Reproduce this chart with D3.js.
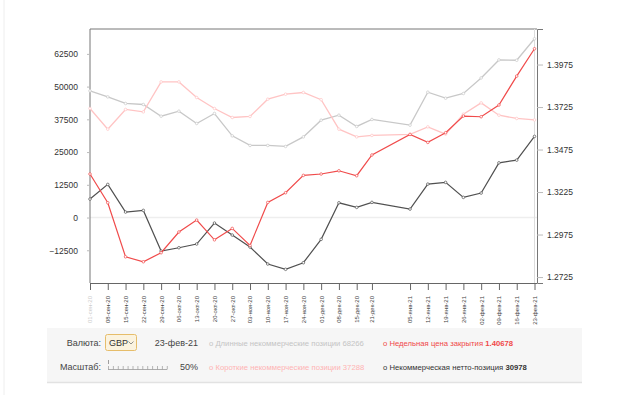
<!DOCTYPE html>
<html>
<head>
<meta charset="utf-8">
<script src="https://cdn.jsdelivr.net/npm/d3@7"></script>
<style>
  body { margin: 0; background: #fff; }
  text { font-family: "Liberation Sans", Arial, sans-serif; }
</style>
</head>
<body>
<div id="chart"></div>
<script>
// weekly report dates
var dates = ["2020-09-01", "2020-09-08", "2020-09-15", "2020-09-22", "2020-09-29",
  "2020-10-06", "2020-10-13", "2020-10-20", "2020-10-27", "2020-11-03",
  "2020-11-10", "2020-11-17", "2020-11-24", "2020-12-01", "2020-12-08",
  "2020-12-15", "2020-12-21", "2021-01-05", "2021-01-12", "2021-01-19",
  "2021-01-26", "2021-02-02", "2021-02-09", "2021-02-16", "2021-02-23"];
var dateLabels = ["01-сен-20", "08-сен-20", "15-сен-20", "22-сен-20", "29-сен-20",
  "06-окт-20", "13-окт-20", "20-окт-20", "27-окт-20", "03-ноя-20",
  "10-ноя-20", "17-ноя-20", "24-ноя-20", "01-дек-20", "08-дек-20",
  "15-дек-20", "21-дек-20", "05-янв-21", "12-янв-21", "19-янв-21",
  "26-янв-21", "02-фев-21", "09-фев-21", "16-фев-21", "23-фев-21"];

var longPos = [48360, 46070, 43560, 43170, 38710, 40620, 35930, 39740, 31190, 27530,
  27530, 27150, 30810, 37180, 39090, 34780, 37450, 35280, 47870, 45580,
  47370, 53320, 60190, 60070, 68266];
var shortPos = [41650, 33750, 41270, 40350, 51800, 51800, 45840, 41650, 38210, 38600,
  45200, 47100, 47750, 45000, 33750, 30810, 31350, 31730, 34630, 31840,
  39470, 43780, 39090, 37830, 37288];
var netPos = [7050, 12650, 2090, 2730, -12790, -11530, -10120, -2110, -6690, -11270,
  -17750, -19770, -17260, -8330, 5630, 3880, 5790, 3230, 12770, 13420,
  7700, 9340, 20890, 21920, 30978];
var closePrice = [1.3331, 1.3162, 1.2844, 1.2815, 1.2868, 1.2990, 1.3060, 1.2944, 1.3011, 1.2911,
  1.3164, 1.3221, 1.3323, 1.3331, 1.3350, 1.3321, 1.3443, 1.3564, 1.3517, 1.3574,
  1.3672, 1.3668, 1.3737, 1.3907, 1.40678];

var leftTicks = [-12500, 0, 12500, 25000, 37500, 50000, 62500];
var rightTicks = [1.2725, 1.2975, 1.3225, 1.3475, 1.3725, 1.3975];

var parse = d3.timeParse("%Y-%m-%d");
var dd = dates.map(parse);

var svg = d3.select("#chart").append("svg")
  .attr("width", 620).attr("height", 395);

var plotL = 90, plotR = 537, plotT = 29, plotB = 283;

var x = d3.scaleTime().domain([dd[0], dd[dd.length - 1]]).range([plotL, 534.5]);
var y = d3.scaleLinear().domain([-25000, 72000]).range([plotB, plotT]);
var y2 = d3.scaleLinear().domain([1.269, 1.4184]).range([plotB, plotT]);

// faint outer edge
svg.append("line").attr("x1", 4).attr("x2", 4).attr("y1", 0).attr("y2", 395)
  .attr("stroke", "#eeeeee");

// zero line
svg.append("line").attr("x1", plotL).attr("x2", plotR)
  .attr("y1", y(0)).attr("y2", y(0))
  .attr("stroke", "#eeeeee").attr("stroke-width", 1.5);

// frame
svg.append("path")
  .attr("d", "M" + plotL + "," + plotB + "V" + plotT + "H" + plotR)
  .attr("fill", "none").attr("stroke", "#777").attr("stroke-width", 1);
svg.append("line").attr("x1", 534.5).attr("x2", 534.5).attr("y1", plotT).attr("y2", plotB)
  .attr("stroke", "#dddddd");

// left axis
var gl = svg.append("g").attr("transform", "translate(" + plotL + ",0)")
  .call(d3.axisLeft(y).tickValues(leftTicks).tickSize(3).tickPadding(9).tickFormat(d3.format("d")));
gl.select(".domain").remove();
gl.selectAll("line").attr("stroke", "#bbb");
gl.selectAll("text").attr("font-size", 8.5).attr("fill", "#333")
  .style("font-family", "Liberation Sans, Arial, sans-serif");

// right axis
var gr = svg.append("g").attr("transform", "translate(" + plotR + ",0)")
  .call(d3.axisRight(y2).tickValues(rightTicks).tickSize(6).tickPadding(4).tickFormat(d3.format(".4f")));
gr.select(".domain").attr("stroke", "#777");
gr.selectAll("line").attr("stroke", "#bbb");
gr.selectAll("text").attr("font-size", 8.5).attr("fill", "#333")
  .style("font-family", "Liberation Sans, Arial, sans-serif");

// bottom axis
var gb = svg.append("g").attr("transform", "translate(0," + plotB + ")")
  .call(d3.axisBottom(x).tickValues(dd).tickSize(7).tickFormat(function (d, i) { return dateLabels[i]; }));
gb.select(".domain").attr("stroke", "#666").attr("d", "M" + plotL + ",0.5H" + plotR);
gb.selectAll("line").attr("stroke", "#666");
gb.selectAll("text")
  .attr("font-size", 6).attr("fill", "#444")
  .style("font-family", "Liberation Sans, Arial, sans-serif")
  .attr("text-anchor", "end")
  .attr("transform", "rotate(-90)")
  .attr("x", -13).attr("y", 0).attr("dy", "0.32em");
gb.selectAll(".tick").filter(function (d, i) { return i === 0; })
  .select("text").attr("fill", "#ccc");

// series
function drawSeries(vals, scale, color, width) {
  var line = d3.line()
    .x(function (d, i) { return x(dd[i]); })
    .y(function (d) { return scale(d); });
  svg.append("path").datum(vals)
    .attr("d", line).attr("fill", "none")
    .attr("stroke", color).attr("stroke-width", width);
  svg.append("g").selectAll("circle").data(vals).enter().append("circle")
    .attr("cx", function (d, i) { return x(dd[i]); })
    .attr("cy", function (d) { return scale(d); })
    .attr("r", 1.3)
    .attr("fill", "#fff").attr("stroke", color).attr("stroke-width", 0.7);
}
drawSeries(longPos, y, "#c8c8c8", 1.3);
drawSeries(shortPos, y, "#ffc4c4", 1.3);
drawSeries(netPos, y, "#505050", 1.2);
drawSeries(closePrice, y2, "#f04b4b", 1.2);

// control panel
var panel = svg.append("g");
panel.append("rect").attr("x", 47).attr("y", 328).attr("width", 535).attr("height", 54)
  .attr("fill", "#f6f6f6");
panel.append("line").attr("x1", 47).attr("x2", 582).attr("y1", 382.5).attr("y2", 382.5)
  .attr("stroke", "#e2e2e2").attr("stroke-width", 1.5);

var row1 = 345.5, row2 = 369.5;
function txt(xp, yp, s, color, anchor, size, weight) {
  return panel.append("text").attr("x", xp).attr("y", yp).text(s)
    .attr("fill", color).attr("font-size", size || 8.5)
    .attr("text-anchor", anchor || "start")
    .attr("font-weight", weight || "normal");
}
txt(101, row1, "Валюта:", "#444", "end", 9);
panel.append("rect").attr("x", 105.5).attr("y", 334.5).attr("width", 31).attr("height", 16).attr("rx", 2)
  .attr("fill", "#fbf3df").attr("stroke", "#e6bd6a");
txt(109, row1, "GBP", "#333", "start", 9);
panel.append("path").attr("d", "M128.5,341.5l2.5,2.5l2.5,-2.5")
  .attr("fill", "none").attr("stroke", "#777").attr("stroke-width", 0.8);
txt(198, row1, "23-фев-21", "#444", "end", 9);

txt(101, row2, "Масштаб:", "#444", "end", 9);
panel.append("line").attr("x1", 108).attr("x2", 167).attr("y1", 369.5).attr("y2", 369.5)
  .attr("stroke", "#999").attr("stroke-width", 0.8);
var sliderTicks = d3.range(13);
panel.append("g").selectAll("line").data(sliderTicks).enter().append("line")
  .attr("x1", function (d) { return 108.5 + d * 4.9; })
  .attr("x2", function (d) { return 108.5 + d * 4.9; })
  .attr("y1", 366).attr("y2", 369.5)
  .attr("stroke", "#999").attr("stroke-width", 0.7);
panel.append("path").attr("d", "M108.5,360v4").attr("stroke", "#888").attr("stroke-width", 0.8);
txt(198, row2, "50%", "#444", "end", 9);

txt(209, row1, "o Длинные некоммерческие позиции  68266", "#c4c4c4", "start", 7.7);
txt(209, row2, "o Короткие некоммерческие позиции  37288", "#ffb4b4", "start", 7.7);
var t1 = txt(383, row1, "o Недельная цена закрытия  ", "#f04848", "start", 7.7);
t1.append("tspan").attr("font-weight", "bold").text("1.40678");
var t2 = txt(383, row2, "o Некоммерческая нетто-позиция  ", "#333", "start", 7.7);
t2.append("tspan").attr("font-weight", "bold").text("30978");
</script>
</body>
</html>
